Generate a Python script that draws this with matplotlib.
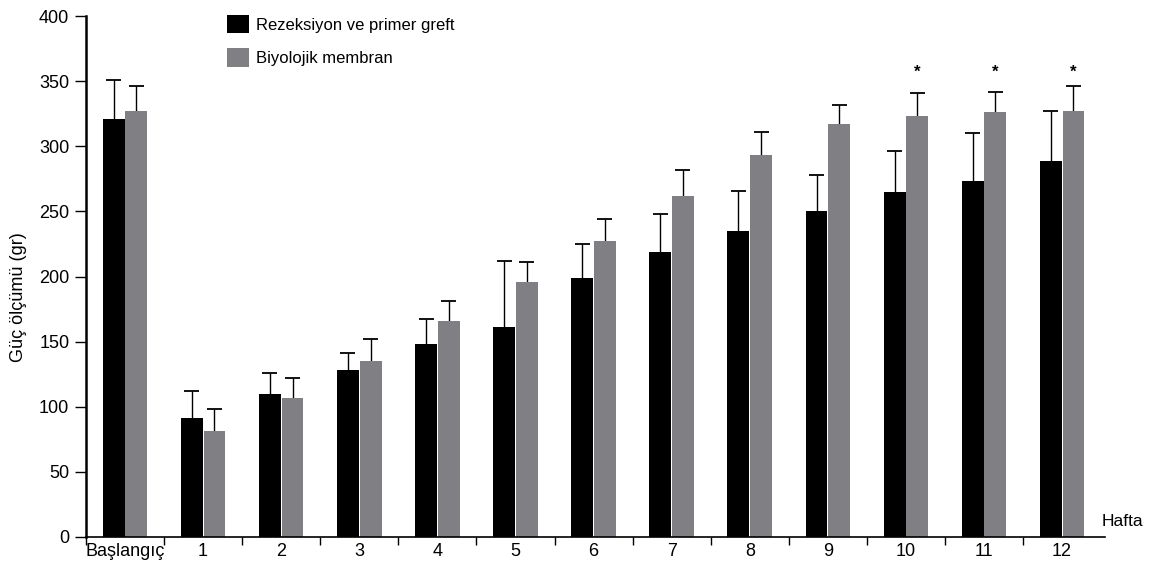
import numpy as np
import matplotlib.pyplot as plt

plt.rcParams['font.family'] = ['Liberation Sans', 'DejaVu Sans']

# --- data ---
groups = ['Başlangıç', '1', '2', '3', '4', '5', '6', '7', '8', '9', '10', '11', '12']
rezeksiyon = [321, 91, 110, 128, 148, 161, 199, 219, 235, 250, 265, 273, 289]
rezeksiyon_err = [30, 21, 16, 13, 19, 51, 26, 29, 31, 28, 31, 37, 38]
membran = [327, 81, 107, 135, 166, 196, 227, 262, 293, 317, 323, 326, 327]
membran_err = [19, 17, 15, 17, 15, 15, 17, 20, 18, 15, 18, 16, 19]
significant = ['10', '11', '12']
star_level = 357

yticks = [0, 50, 100, 150, 200, 250, 300, 350, 400]

black = '#000000'
grey = '#808084'

fig = plt.figure(figsize=(11.62, 5.64), dpi=100)
ax = fig.add_axes([0.074, 0.0479, 0.877, 0.9237])

x = np.arange(len(groups))
w = 0.28
off = 0.145
cap = 0.096

ax.bar(x - off, rezeksiyon, w, color=black, label='Rezeksiyon ve primer greft', zorder=2)
ax.bar(x + off, membran, w, color=grey, label='Biyolojik membran', zorder=2)

# upper error bars only (stem + cap)
for xs, vals, errs in [(x - off, rezeksiyon, rezeksiyon_err), (x + off, membran, membran_err)]:
    tops = np.array(vals) + np.array(errs)
    ax.vlines(xs, vals, tops, color='black', lw=1, zorder=1)
    ax.hlines(tops, xs - cap, xs + cap, color='black', lw=1.3, zorder=1)

for g in significant:
    i = groups.index(g)
    ax.text(x[i] + off, star_level, '*', ha='center', va='center',
            fontsize=12, fontweight='bold')

ax.set_xlim(-0.5, 12.55)
ax.set_ylim(0, 400)

# ticks between groups, labels at group centres
ax.set_xticks(np.arange(-0.5, 12, 1))
ax.set_xticklabels([])
ax.set_xticks(x, minor=True)
ax.set_xticklabels(groups, minor=True, fontsize=13)
ax.tick_params(axis='x', which='major', direction='out', length=6, width=1)
ax.tick_params(axis='x', which='minor', length=0, pad=4)

ax.set_yticks(yticks)
ax.tick_params(axis='y', direction='out', length=8, width=1, labelsize=13, pad=4)

for s in ['top', 'right']:
    ax.spines[s].set_visible(False)
ax.spines['left'].set_linewidth(1.8)
ax.spines['bottom'].set_linewidth(1.2)

ax.set_ylabel('Güç ölçümü (gr)', fontsize=13)
ax.yaxis.set_label_coords(-0.058, 0.46)

ax.text(0.997, 0.029, 'Hafta', transform=ax.transAxes, ha='left', va='center', fontsize=12.5)

ax.legend(frameon=False, loc='upper left', bbox_to_anchor=(227 / 1162, 1 - 15 / 564),
          bbox_transform=fig.transFigure, borderpad=0, borderaxespad=0,
          handlelength=1.32, handleheight=1.32, handletextpad=0.4, labelspacing=0.9,
          fontsize=12)

fig.savefig('out.png', dpi=100)
